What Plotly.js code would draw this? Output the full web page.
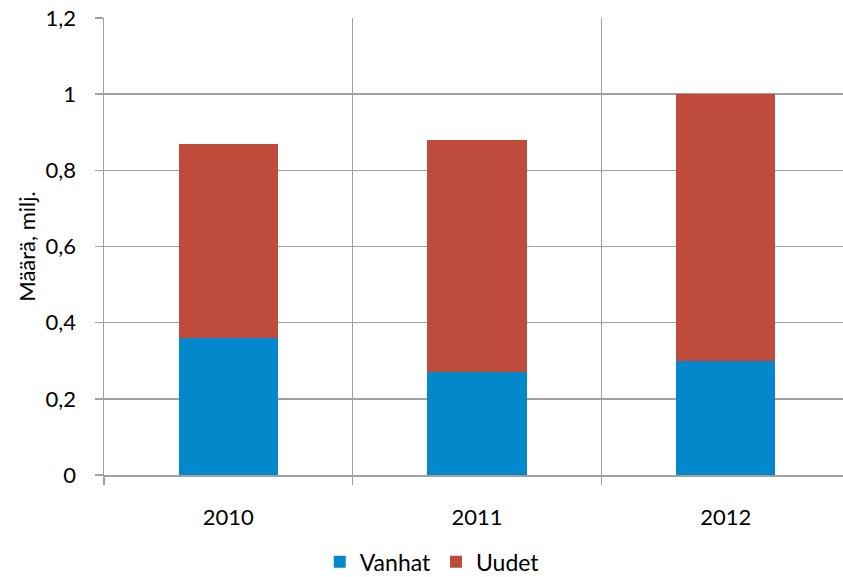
<!DOCTYPE html>
<html>
<head>
<meta charset="utf-8">
<script src="https://cdn.plot.ly/plotly-3.0.1.min.js"></script>
<style>
html,body{margin:0;padding:0;overflow:hidden;background:#fff;}
#chart{width:851px;height:610px;}
</style>
</head>
<body>
<div id="chart"></div>
<script>
const years = ['2010', '2011', '2012'];
const vanhat = [0.36, 0.27, 0.30];
const uudet = [0.51, 0.61, 0.70];
const yTicks = [0, 0.2, 0.4, 0.6, 0.8, 1, 1.2];

const gridColor = '#A0A0A0';
const family = 'Lato, "Open Sans", sans-serif';
const font = {family: family, size: 22, color: '#000'};

const data = [
  {type: 'bar', name: 'Vanhat', x: years, y: vanhat, marker: {color: '#0288CB'}},
  {type: 'bar', name: 'Uudet', x: years, y: uudet, marker: {color: '#BE4B3C'}}
];

const layout = {
  width: 851, height: 610,
  margin: {l: 104, r: 1, t: 18, b: 135},
  barmode: 'stack',
  bargap: 0.6,
  separators: ', ',
  font: font,
  paper_bgcolor: '#fff', plot_bgcolor: '#fff',
  showlegend: true,
  legend: {orientation: 'h', x: 0.44, xanchor: 'center', y: -0.19, yanchor: 'middle',
           font: {family: family, size: 23, color: '#000'}, itemwidth: 30, traceorder: 'normal'},
  xaxis: {
    type: 'category', tickson: 'boundaries', showgrid: true, gridcolor: gridColor, gridwidth: 1.5,
    ticks: 'outside', ticklen: 8, tickcolor: gridColor, tickwidth: 1.5,
    showline: true, linecolor: gridColor, linewidth: 1.5,
    ticklabelstandoff: 22, tickfont: font, zeroline: false, automargin: false
  },
  yaxis: {
    range: [0, 1.2], tickvals: yTicks, showgrid: true, gridcolor: gridColor, gridwidth: 1.5,
    ticks: 'outside', ticklen: 8, tickcolor: gridColor, tickwidth: 1.5,
    showline: true, linecolor: gridColor, linewidth: 1.5, zeroline: false,
    ticklabelstandoff: 14, tickfont: font, automargin: false,
    title: {text: 'Määrä, milj.', font: font, standoff: 4}
  }
};

Plotly.newPlot('chart', data, layout, {staticPlot: true, displayModeBar: false});
</script>
</body>
</html>
